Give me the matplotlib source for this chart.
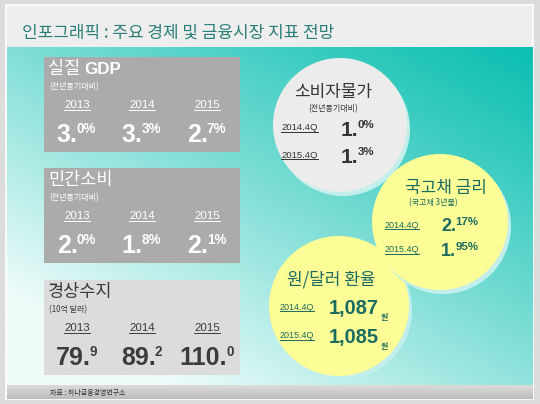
import numpy as np
import matplotlib
matplotlib.use('Agg')
import matplotlib.pyplot as plt
from matplotlib.patches import Rectangle, Circle

# --- data read from the infographic ---
years = ['2013', '2014', '2015']
gdp_growth = [3.0, 3.3, 2.7]           # 실질 GDP, %
consumption_growth = [2.0, 1.8, 2.1]   # 민간소비, %
current_account = [79.9, 89.2, 110.0]  # 경상수지, 10억 달러
quarters = ['2014.4Q', '2015.4Q']
cpi = [1.0, 1.3]                       # 소비자물가, %
bond_rate = [2.17, 1.95]               # 국고채 3년물, %
usd_krw = [1087, 1085]                 # 원/달러 환율

KR = ['Noto Sans CJK KR', 'DejaVu Sans']
NUM = ['Liberation Sans', 'Noto Sans CJK KR']
W, H = 540, 404


def px(p):
    return p * 0.72


fig = plt.figure(figsize=(5.4, 4.04), dpi=100, facecolor='#dcdcdc')
ax = fig.add_axes([0, 0, 1, 1])
ax.axis('off')

# slide frame + title band
ax.add_patch(Rectangle((6, 5), 527, 394, facecolor='#eeeeee', edgecolor='white', lw=1.2))

# teal gradient background
gx, gy = np.meshgrid(np.linspace(0, 1, 300), np.linspace(0, 1, 200))
t = np.clip(0.55 * (1 - gx) + 0.62 * gy, 0, 1) ** 1.1
c0 = np.array([11, 191, 177]) / 255
c1 = np.array([238, 252, 250]) / 255
img = c0 + (c1 - c0) * t[..., None]
ax.imshow(img, extent=(7, 533, 385, 47), origin='upper', aspect='auto', zorder=1)

# footer band
fg = np.linspace(0, 1, 20)[:, None, None]
foot = np.array([0.86, 0.86, 0.86]) + (np.array([0.74, 0.74, 0.74]) - 0.86) * fg
foot = np.repeat(foot, 10, axis=1)
ax.imshow(foot, extent=(7, 533, 399, 385), origin='upper', aspect='auto', zorder=1)

ax.set_xlim(0, W)
ax.set_ylim(H, 0)
r = fig.canvas.get_renderer()


def put(x, y, s, size, color, family=KR, weight='normal', ha='left', va='baseline',
        underline=False, z=5):
    tx = ax.text(x, y, s, fontsize=px(size), color=color, family=family,
                 weight=weight, ha=ha, va=va, zorder=z)
    if underline:
        bb = tx.get_window_extent(r)
        ax.plot([bb.x0, bb.x1], [H - bb.y0 - 0.5] * 2, color=color, lw=0.7, zorder=z)
    return tx


def value(x, y, main, sup, size, sup_size, color, align='center', sub=None, sub_size=8):
    t1 = ax.text(0, y, main, fontsize=px(size), color=color, family=NUM,
                 weight='bold', va='baseline', zorder=6)
    t2 = ax.text(0, y - 0.716 * (size - sup_size) - 1, sup, fontsize=px(sup_size),
                 color=color, family=NUM, weight='bold', va='baseline', zorder=6)
    w1 = t1.get_window_extent(r).width
    w2 = t2.get_window_extent(r).width
    x0 = x - (w1 + w2) / 2 if align == 'center' else x
    t1.set_x(x0)
    t2.set_x(x0 + w1 - 1)
    if sub is not None:
        ax.text(x0 + w1 + 1.5, y + 6, sub, fontsize=px(sub_size), color=color,
                family=KR, weight='bold', va='baseline', zorder=6)


def split(v, nd):
    a, b = f'{v:.{nd}f}'.split('.')
    return a + '.', b


# title
put(22, 33, '인포그래픽 : 주요 경제 및 금융시장 지표 전망', 17, '#2b7f79', va='center')
put(50, 393, '자료 : 하나금융경영연구소', 7, '#333333', va='center')

# left boxes
boxes = [
    (57, '#ababab', 'white', '실질 ', 'GDP', '(전년동기대비)', gdp_growth, '%'),
    (168, '#ababab', 'white', '민간소비', '', '(전년동기대비)', consumption_growth, '%'),
    (280, '#dcdcdc', '#3c3c3c', '경상수지', '', '(10억 달러)', current_account, ''),
]
year_x = [77, 142, 207]
for top, face, fc, title, latin, note, vals, unit in boxes:
    ax.add_patch(Rectangle((44, top), 196, 95, facecolor=face, edgecolor='none', zorder=3))
    tt = put(48, top + 12, title, 17.5, fc, weight='medium', va='center')
    if latin:
        put(48 + tt.get_window_extent(r).width, top + 12, latin, 17, fc,
            family=NUM, weight='bold', va='center')
    put(49, top + 30, note, 8, fc, va='center')
    for xc, yr, v in zip(year_x, years, vals):
        put(xc, top + 48, yr, 11.5, fc, family=NUM, ha='center', va='center', underline=True)
        a, b = split(v, 1)
        value(xc, top + 85, a, b + unit, 25, 13.5, fc)

# circles (halo + face)
circles = [
    ((340, 125), 67, '#ececec'),
    ((339, 306), 70, '#fdfd98'),
    ((440, 222), 68, '#fdfd98'),
]
for i, ((cx, cy), rad, col) in enumerate(circles):
    ax.add_patch(Circle((cx + 3, cy + 4), rad, facecolor='#c2efeb', edgecolor='none', zorder=3 + i * 0.1))
    ax.add_patch(Circle((cx, cy), rad, facecolor=col, edgecolor='none', zorder=3.05 + i * 0.1))

# 소비자물가
gray_txt = '#333333'
put(333, 92, '소비자물가', 17, gray_txt, ha='center', va='center')
put(333, 109, '(전년동기대비)', 8, gray_txt, ha='center', va='center')
for q, v, yy in zip(quarters, cpi, [128, 155]):
    put(281, yy, q, 9.5, gray_txt, family=NUM, va='center', underline=True)
    a, b = split(v, 1)
    value(341, yy + 8, a, b + '%', 21, 11.5, gray_txt, align='left')

# 국고채 금리
teal_txt = '#1c6b60'
put(446, 188, '국고채 금리', 17, teal_txt, ha='center', va='center')
put(433, 203, '(국고채 3년물)', 8, teal_txt, ha='center', va='center')
for q, v, yy in zip(quarters, bond_rate, [225, 250]):
    put(385, yy, q, 9, teal_txt, family=NUM, va='center', underline=True)
    a, b = split(v, 2)
    value(441, yy + 6, a, b + '%', 18, 11.5, teal_txt, align='left')

# 원/달러 환율
put(331, 279, '원/달러 환율', 17, teal_txt, weight='medium', ha='center', va='center')
for q, v, yy in zip(quarters, usd_krw, [307, 336]):
    put(280, yy, q, 9, teal_txt, family=NUM, va='center', underline=True)
    value(329, yy + 7, f'{v:,}', '', 20, 8, teal_txt, align='left', sub='원', sub_size=8)

fig.savefig('out.png', dpi=100, facecolor=fig.get_facecolor())
